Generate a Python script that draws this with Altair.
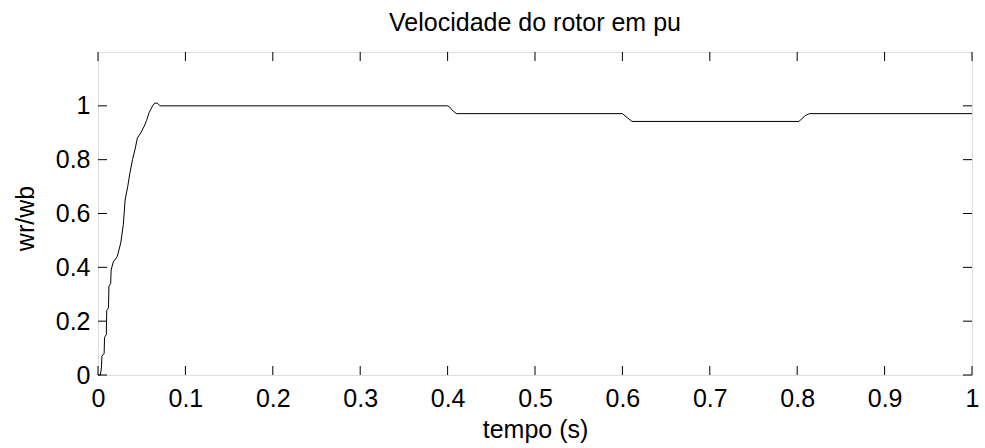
import altair as alt
import pandas as pd

# ---- data ----
tempo = [0.0, 0.0027, 0.004, 0.0045, 0.007, 0.0075, 0.0095, 0.010, 0.012, 0.0125,
         0.0145, 0.015, 0.0175, 0.022, 0.026, 0.029, 0.031, 0.034, 0.0365, 0.0395,
         0.0425, 0.045, 0.049, 0.053, 0.0555, 0.0585, 0.0625, 0.065, 0.068, 0.071,
         0.400, 0.402, 0.405, 0.410, 0.600, 0.603, 0.606, 0.611, 0.802, 0.808,
         0.810, 0.814, 1.0]
velocidade = [0.0, 0.0, 0.03, 0.07, 0.08, 0.14, 0.15, 0.24, 0.25, 0.33,
              0.34, 0.39, 0.42, 0.44, 0.49, 0.56, 0.65, 0.70, 0.75, 0.80,
              0.84, 0.88, 0.90, 0.925, 0.945, 0.975, 1.0, 1.01, 1.01, 1.0,
              1.0, 0.997, 0.985, 0.971, 0.971, 0.963, 0.955, 0.942, 0.942, 0.96,
              0.965, 0.971, 0.971]
x_ticks = [0, 0.1, 0.2, 0.3, 0.4, 0.5, 0.6, 0.7, 0.8, 0.9, 1]
y_ticks = [0, 0.2, 0.4, 0.6, 0.8, 1]
titulo = ["Velocidade do rotor em pu"]

W, H = 874, 323
TICK = 9
FONT = "Liberation Sans"
FS = 25

df = pd.DataFrame({"t": tempo, "v": velocidade})
dfx = pd.DataFrame({"t": x_ticks})
dfy = pd.DataFrame({"v": y_ticks})
dft = pd.DataFrame({"label": titulo})

xscale = alt.Scale(domain=[0, 1], nice=False, zero=False)
yscale = alt.Scale(domain=[0, 1.2], nice=False, zero=False)

line = alt.Chart(df).mark_line(color="black", strokeWidth=1, interpolate="linear").encode(
    x=alt.X("t:Q", scale=xscale,
            axis=alt.Axis(values=x_ticks, format="~g", title="tempo (s)", ticks=False,
                          tickSize=0, domain=False, grid=False, labelPadding=11,
                          labelFont=FONT, labelFontSize=FS, labelColor="black",
                          titleFont=FONT, titleFontSize=FS, titleFontWeight="normal",
                          titleColor="black", titleY=62, titleBaseline="alphabetic",
                          labelFlush=False)),
    y=alt.Y("v:Q", scale=yscale,
            axis=alt.Axis(values=y_ticks, format="~g", title="wr/wb", ticks=False,
                          tickSize=0, domain=False, grid=False, labelPadding=8,
                          labelFont=FONT, labelFontSize=FS, labelColor="black",
                          titleFont=FONT, titleFontSize=FS, titleFontWeight="normal",
                          titleColor="black", titleX=-65, titleY=166,
                          titleBaseline="alphabetic", labelFlush=False)),
)

xt_bottom = alt.Chart(dfx).mark_rule(color="black", strokeWidth=1).encode(
    x=alt.X("t:Q", scale=xscale), y=alt.value(H), y2=alt.value(H - TICK))
xt_top = alt.Chart(dfx).mark_rule(color="black", strokeWidth=1).encode(
    x=alt.X("t:Q", scale=xscale), y=alt.value(0), y2=alt.value(TICK))
yt_left = alt.Chart(dfy).mark_rule(color="black", strokeWidth=1).encode(
    y=alt.Y("v:Q", scale=yscale), x=alt.value(0), x2=alt.value(TICK))
yt_right = alt.Chart(dfy).mark_rule(color="black", strokeWidth=1).encode(
    y=alt.Y("v:Q", scale=yscale), x=alt.value(W), x2=alt.value(W - TICK))

title = alt.Chart(dft).mark_text(font=FONT, fontSize=FS, color="black", align="center",
                                 baseline="alphabetic").encode(
    text="label:N", x=alt.value(W / 2), y=alt.value(-21))

chart = alt.layer(xt_bottom, xt_top, yt_left, yt_right, line, title).properties(
    width=W, height=H,
    autosize=alt.AutoSizeParams(type="none"),
    padding={"left": 98, "top": 52, "right": 13, "bottom": 73},
).configure_view(stroke="black", strokeWidth=1).configure(background="white")

chart.save("out.html", embed_options={"renderer": "svg", "actions": False})
